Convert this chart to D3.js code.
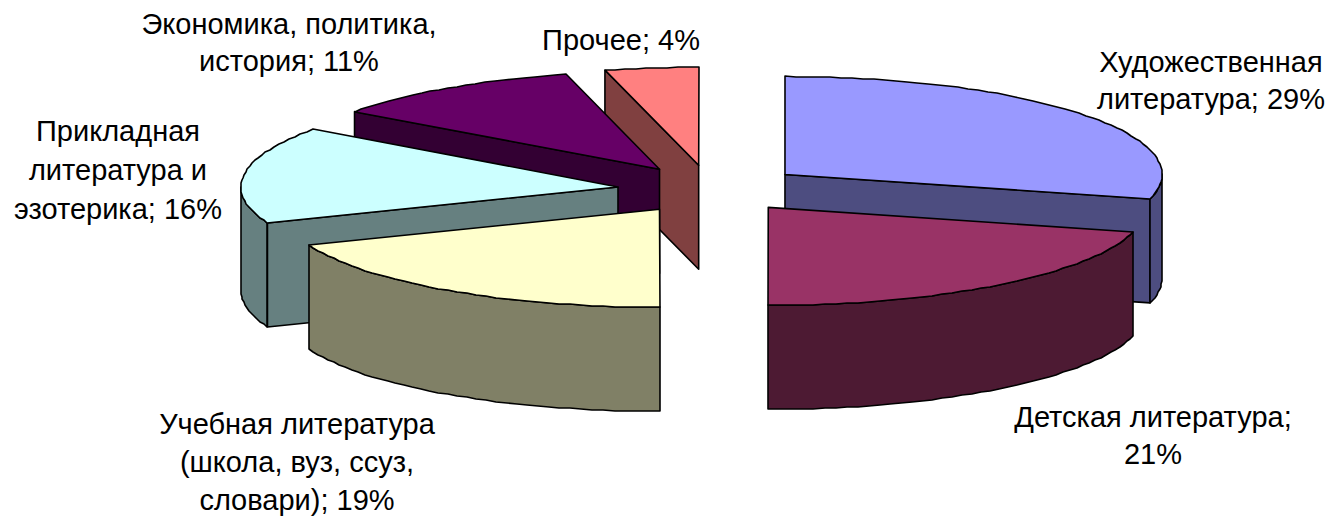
<!DOCTYPE html>
<html>
<head>
<meta charset="utf-8">
<script src="https://cdn.jsdelivr.net/npm/d3@7"></script>
<style>
  html, body { margin: 0; padding: 0; background: #fff; }
  text { font-family: "Liberation Sans", Arial, sans-serif; font-size: 29px; fill: #000; }
</style>
</head>
<body>
<div class="chart"></div>
<script>
// Data
var categories = ["Художественная литература", "Детская литература", "Учебная литература (школа, вуз, ссуз, словари)", "Прикладная литература и эзотерика", "Экономика, политика, история", "Прочее"];
var values = [29, 21, 19, 16, 11, 4];
var topColors = ["#9999ff", "#993366", "#ffffcc", "#ccffff", "#660066", "#ff8080"];
var sideColors = ["#4d4d80", "#4d1a33", "#808066", "#668080", "#330033", "#804040"];
var labelLines = [
  ["Художественная", "литература; 29%"],
  ["Детская литература;", "21%"],
  ["Учебная литература", "(школа, вуз, ссуз,", "словари); 19%"],
  ["Прикладная", "литература и", "эзотерика; 16%"],
  ["Экономика, политика,", "история; 11%"],
  ["Прочее; 4%"]
];

// Label anchors (centre x, first baseline), in page pixels
var labelX = [1211, 1153, 297, 118, 289, 621];
var labelY = [72, 427, 434, 141, 34, 50];
var lineStep = [37, 37, 38, 39, 37, 0];

var width = 1330, height = 517;

// Pie geometry: ellipse radii, depth of the 3D wall and explosion share
var cx = 710.5, cy = 189.5, rx = 377, ry = 98, depth = 104, explode = 0.25;
// Small per-slice corrections to the explosion
var nudgeX = [0, 0, 2, 1, 2, 0];
var nudgeY = [0, -1.5, -0.5, 0.5, 0, 0];

var svg = d3.select(".chart").append("svg")
  .attr("width", width)
  .attr("height", height)
  .style("display", "block");

var slices = d3.pie().sort(null).value(function(d) { return d; })(values);

var line = d3.line();

// x, y of the rim at angle a (clockwise from 12 o'clock) for centre c
function rim(c, a, dz) {
  return [c[0] + rx * Math.sin(a), c[1] - ry * Math.cos(a) + (dz || 0)];
}

// Rounded to whole pixels, this gives the rough edge the original has
function arcPoints(c, a0, a1, dz) {
  var n = Math.max(2, Math.ceil(Math.abs(a1 - a0) / 0.03));
  return d3.range(n + 1).map(function(i) {
    var p = rim(c, a0 + (a1 - a0) * i / n, dz);
    return [Math.round(p[0]), Math.round(p[1])];
  });
}

slices.forEach(function(s, i) {
  var mid = (s.startAngle + s.endAngle) / 2;
  s.centre = [
    cx + explode * rx * Math.sin(mid) + nudgeX[i],
    cy - explode * ry * Math.cos(mid) + nudgeY[i]
  ];
});

// Back slices are painted first so the front ones can cover them
var drawOrder = [5, 4, 3, 0, 2, 1];

drawOrder.forEach(function(i) {
  var s = slices[i], c = s.centre;
  var g = svg.append("g").attr("class", "slice");

  function wall(points) {
    g.append("path")
      .attr("d", line(points) + "Z")
      .attr("fill", sideColors[i])
      .attr("stroke", "#000")
      .attr("stroke-width", 1.6)
      .attr("stroke-linejoin", "round");
  }

  function radialWall(a) {
    var p = rim(c, a);
    wall([c, p, [p[0], p[1] + depth], [c[0], c[1] + depth]]);
  }

  // Cut faces that look towards the viewer
  if (Math.sin(s.endAngle) > 0.001) radialWall(s.endAngle);
  if (Math.sin(s.startAngle) < -0.001) radialWall(s.startAngle);

  // Curved outer wall, only the part on the front half of the ellipse
  var a0 = Math.max(s.startAngle, Math.PI / 2);
  var a1 = Math.min(s.endAngle, Math.PI * 1.5);
  if (a1 > a0) {
    wall(arcPoints(c, a0, a1, 0).concat(arcPoints(c, a1, a0, depth)));
  }

  // Top face
  g.append("path")
    .attr("d", line([c].concat(arcPoints(c, s.startAngle, s.endAngle, 0))) + "Z")
    .attr("fill", topColors[i])
    .attr("stroke", "#000")
    .attr("stroke-width", 1.6)
    .attr("stroke-linejoin", "round");
});

// Labels
labelLines.forEach(function(lines, i) {
  var t = svg.append("text")
    .attr("text-anchor", "middle")
    .attr("aria-label", categories[i] + "; " + values[i] + "%");
  lines.forEach(function(l, j) {
    t.append("tspan")
      .attr("x", labelX[i])
      .attr("y", labelY[i] + j * lineStep[i])
      .text(l);
  });
});
</script>
</body>
</html>
